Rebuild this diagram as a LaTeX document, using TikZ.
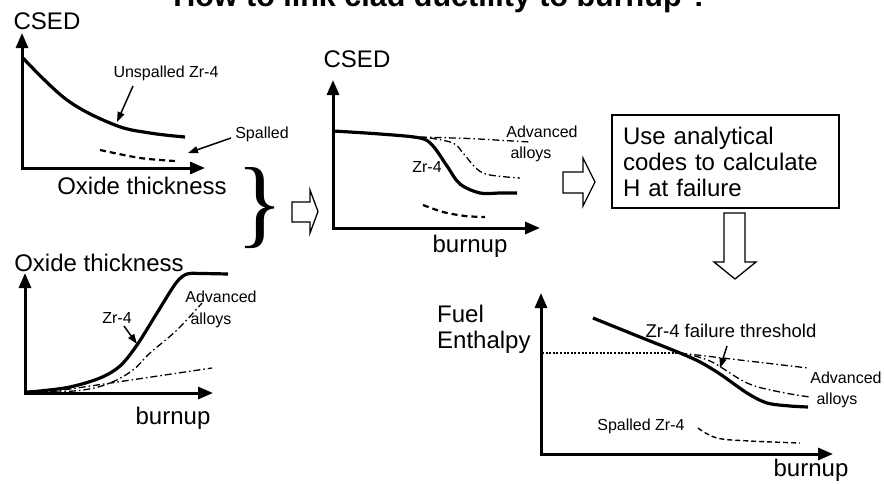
\documentclass[tikz,border=0pt]{standalone}
\usepackage{fontspec}
\setmainfont{Liberation Sans}
\newfontfamily\bracefont{Liberation Serif}
\usetikzlibrary{arrows.meta}

\begin{document}
\begin{tikzpicture}[x=1pt,y=-1pt,
  axisline/.style={line width=3pt,
    {Triangle[length=15pt,width=12pt]}-{Triangle[length=15pt,width=12pt]}},
  zrcurve/.style={line width=3.2pt},
  altcurve/.style={line width=1.3pt, dash pattern=on 7pt off 3pt on 1.5pt off 3pt},
  spallcurve/.style={line width=2.2pt, dash pattern=on 6pt off 4pt},
  thincurve/.style={line width=1.4pt, dash pattern=on 5pt off 3pt},
  threshold/.style={line width=2pt, dash pattern=on 2pt off 1.6pt},
  pointer/.style={line width=1.5pt, -{Triangle[length=10pt,width=7pt]}},
  blockarrow/.style={draw, line width=1.3pt, fill=white, line join=miter},
  biglabel/.style={font=\fontsize{24}{26}\selectfont, inner sep=0pt},
  smalllabel/.style={font=\fontsize{16}{18}\selectfont, inner sep=0pt},
  midlabel/.style={font=\fontsize{18.5}{20}\selectfont, inner sep=0pt},
  titlelabel/.style={font=\bfseries\fontsize{30.5}{32}\selectfont, inner sep=0pt}
]
\useasboundingbox (0,0) rectangle (884,483);

% title
\node[titlelabel, anchor=base] (title) at (441,6) {How to link clad ductility to burnup ?};

% ---------- CSED versus oxide thickness ----------
\coordinate (ya) at (22,33);
\coordinate (oa) at (22,168);
\coordinate (xa) at (205,168);
\draw[axisline] (ya) -- (oa) -- (xa);
\node[biglabel] (csedA) at (47,21) {CSED};
\node[biglabel] (oxA) at (142,186) {Oxide thickness};
\draw[zrcurve] plot[smooth, tension=0.6] coordinates
  {(22,57) (67,100) (115,125) (150,133) (185,137)};
\draw[spallcurve] plot[smooth] coordinates {(100,150) (140,158) (175,161)};
\node[smalllabel] (unsp) at (166,73) {Unspalled Zr-4};
\node[smalllabel] (spal) at (262,134) {Spalled};
\coordinate (unspS) at (133,86);
\coordinate (unspT) at (117,122);
\coordinate (spalS) at (231,138);
\coordinate (spalT) at (188,153);
\draw[pointer] (unspS) -- (unspT);
\draw[pointer] (spalS) -- (spalT);

% brace joining the two left graphs
\node[font=\bracefont\fontsize{98}{98}\selectfont, inner sep=0pt] (brace) at (260,208) {\}};

% ---------- oxide thickness versus burnup ----------
\coordinate (yc) at (25,273);
\coordinate (oc) at (25,393);
\coordinate (xc) at (213,393);
\draw[axisline] (yc) -- (oc) -- (xc);
\node[biglabel] (oxC) at (99,263) {Oxide thickness};
\node[biglabel] (buC) at (173,418) {burnup};
\draw[zrcurve] plot[smooth, tension=0.55] coordinates
  {(27,392) (40,391) (70,387) (100,378) (120,366) (137,345) (157,313) (176,283) (187,274) (200,273.5) (228,274)};
\draw[altcurve] plot[smooth, tension=0.6] coordinates
  {(40,393) (83,390) (110,383) (133,370) (150,353) (177,330) (202,303)};
\draw[altcurve] (50,392) -- (212,368);
\node[smalllabel] (zrC) at (117,318) {Zr-4};
\node[smalllabel] (advC) at (221,297) {Advanced};
\node[smalllabel] (allC) at (211,320) {alloys};
\coordinate (zrCS) at (124,326);
\coordinate (zrCT) at (137,344);
\draw[pointer] (zrCS) -- (zrCT);

% ---------- CSED versus burnup ----------
\coordinate (yb) at (333,80);
\coordinate (ob) at (333,228);
\coordinate (xb) at (540,228);
\draw[axisline] (yb) -- (ob) -- (xb);
\node[biglabel] (csedB) at (357,59) {CSED};
\node[biglabel] (buB) at (470,246) {burnup};
\draw[zrcurve] plot[smooth, tension=0.55] coordinates
  {(333,131) (380,134) (420,138) (433,146) (447,166) (460,184) (480,193) (500,193) (517,193)};
\draw[altcurve] (420,137) -- (470,138.5) -- (530,142);
\draw[altcurve] plot[smooth, tension=0.6] coordinates
  {(430,138) (453,143) (463,153) (477,169) (490,175) (520,178)};
\draw[spallcurve] plot[smooth] coordinates {(423,205) (443,212) (465,216) (485,217)};
\node[smalllabel] (advB) at (542,132) {Advanced};
\node[smalllabel] (allB) at (531,154) {alloys};
\node[smalllabel] (zrB) at (427,167) {Zr-4};

% ---------- analysis box ----------
\node[draw, line width=1.6pt, minimum width=227pt, minimum height=93pt,
      text width=205pt, inner xsep=11pt, align=left,
      font=\fontsize{24}{26}\selectfont] (box) at (725.5,161.5)
  {Use analytical\\codes to calculate\\H at failure};

% hollow block arrows between the stages
\draw[blockarrow] (292,202) -- (310,202) -- (310,190) -- (318,211.5)
  -- (310,233) -- (310,222) -- (292,222) -- cycle;
\draw[blockarrow] (563,172) -- (583,172) -- (583,158) -- (595,182)
  -- (583,206) -- (583,193) -- (563,193) -- cycle;
\draw[blockarrow] (724,213) -- (724,262) -- (714,262) -- (735,279)
  -- (756,262) -- (745,262) -- (745,213) -- cycle;

% ---------- fuel enthalpy versus burnup ----------
\coordinate (yd) at (541,293);
\coordinate (od) at (541,454);
\coordinate (xd) at (833,454);
\draw[axisline] (yd) -- (od) -- (xd);
\node[biglabel, anchor=base west] (fuel) at (437,322) {Fuel};
\node[biglabel, anchor=base west] (enth) at (437,348) {Enthalpy};
\node[biglabel] (buD) at (811,470) {burnup};
\coordinate (thrA) at (542,353);
\coordinate (thrB) at (682,353);
\draw[threshold] (thrA) -- (thrB);
\draw[zrcurve] plot[smooth, tension=0.5] coordinates
  {(593,318) (640,337) (680,353) (700,362) (720,374) (747,393) (767,403) (790,406) (808,407)};
\draw[altcurve] (680,353) -- (808,368);
\draw[altcurve] plot[smooth, tension=0.6] coordinates
  {(680,353) (710,361) (747,383) (780,392) (810,397)};
\draw[thincurve] plot[smooth, tension=0.6] coordinates {(698,428) (717,438) (750,441) (800,443)};
\node[midlabel] (thr) at (731,331) {Zr-4 failure threshold};
\node[smalllabel] (advD) at (846,378) {Advanced};
\node[smalllabel] (allD) at (837,400) {alloys};
\node[smalllabel] (spD) at (641,426) {Spalled Zr-4};
\coordinate (thrS) at (727,346);
\coordinate (thrT) at (720,368);
\draw[pointer] (thrS) -- (thrT);
\end{tikzpicture}
\end{document}
